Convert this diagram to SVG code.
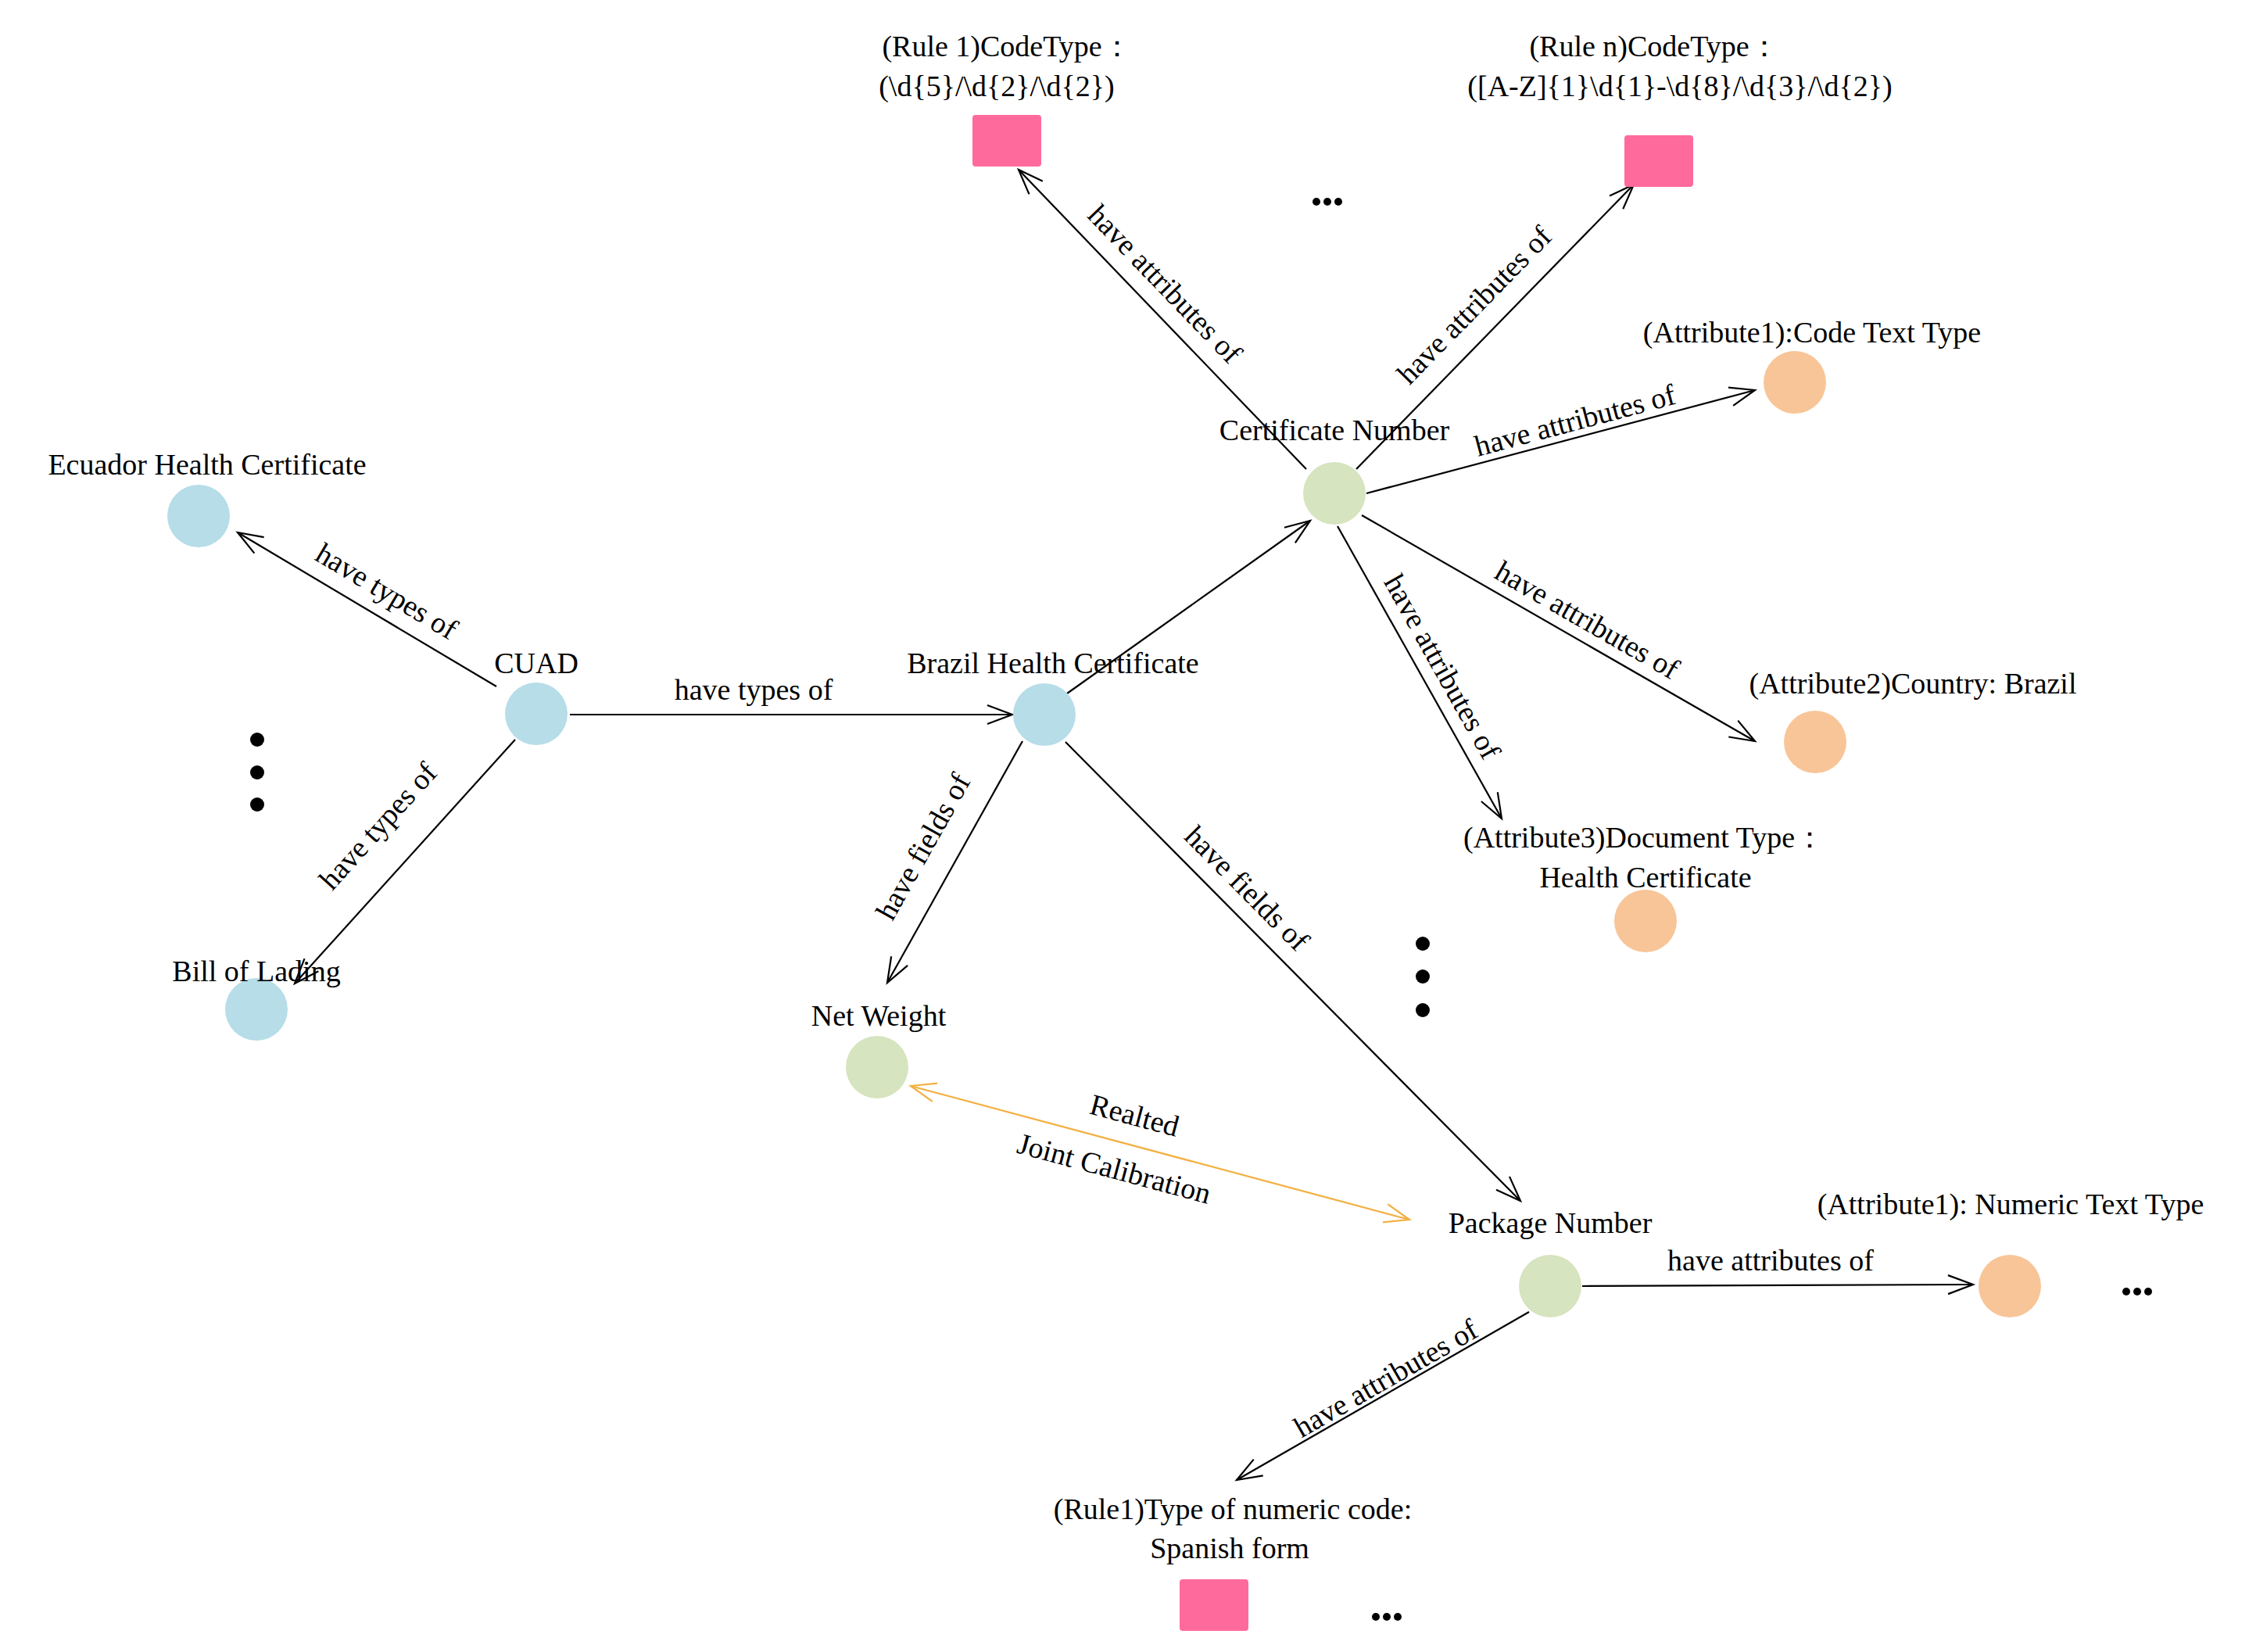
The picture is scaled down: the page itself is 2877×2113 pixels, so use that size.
<svg xmlns="http://www.w3.org/2000/svg" width="2877" height="2113" viewBox="0 0 2877 2113">
<style>
text{font-family:"Liberation Serif","Times New Roman",serif;font-size:38px;fill:#000;text-anchor:middle}
.e{stroke:#000;stroke-width:2.2;fill:none;marker-end:url(#a)}
.o{stroke:#f2b040;stroke-width:2.2;fill:none;marker-end:url(#ao);marker-start:url(#aos)}
.b{fill:#b6dde8}.g{fill:#d6e4bf}.p{fill:#f8c598}.r{fill:#ff6a9c}
</style>
<defs>
<marker id="a" markerUnits="userSpaceOnUse" markerWidth="40" markerHeight="40" refX="36" refY="20" orient="auto"><path d="M4,8 L36,20 L4,32" fill="none" stroke="#000" stroke-width="2.2"/></marker>
<marker id="ao" markerUnits="userSpaceOnUse" markerWidth="40" markerHeight="40" refX="36" refY="20" orient="auto"><path d="M4,8 L36,20 L4,32" fill="none" stroke="#f2b040" stroke-width="2.2"/></marker>
<marker id="aos" markerUnits="userSpaceOnUse" markerWidth="40" markerHeight="40" refX="4" refY="20" orient="auto"><path d="M36,8 L4,20 L36,32" fill="none" stroke="#f2b040" stroke-width="2.2"/></marker>
</defs>
<g id="connectors">
<line class="e" x1="635" y1="878" x2="304" y2="681"/>
<line class="e" x1="659" y1="946" x2="377" y2="1258"/>
<line class="e" x1="729" y1="914" x2="1295" y2="914"/>
<line class="e" x1="1365" y1="887" x2="1676" y2="666"/>
<line class="e" x1="1308" y1="948" x2="1135" y2="1257"/>
<line class="e" x1="1363" y1="949" x2="1945" y2="1536"/>
<line class="o" x1="1165" y1="1389" x2="1803" y2="1560"/>
<line class="e" x1="1671" y1="600" x2="1303" y2="217"/>
<line class="e" x1="1735" y1="600" x2="2090" y2="236"/>
<line class="e" x1="1748" y1="631" x2="2245" y2="499"/>
<line class="e" x1="1742" y1="659" x2="2245" y2="948"/>
<line class="e" x1="1711" y1="673" x2="1921" y2="1047"/>
<line class="e" x1="2024" y1="1645" x2="2524" y2="1643"/>
<line class="e" x1="1956" y1="1678" x2="1582" y2="1893"/>
<text transform="translate(488,767) rotate(30.8)">have types of</text>
<text transform="translate(493,1065) rotate(-47.9)">have types of</text>
<text x="964" y="895">have types of</text>
<text transform="translate(1192,1089) rotate(-60.8)">have fields of</text>
<text transform="translate(1586,1145) rotate(45.2)">have fields of</text>
<text transform="translate(1481,372) rotate(46.1)">have attributes of</text>
<text transform="translate(1895,399) rotate(-45.7)">have attributes of</text>
<text transform="translate(2018,550) rotate(-14.9)">have attributes of</text>
<text transform="translate(2024,804) rotate(29.9)">have attributes of</text>
<text transform="translate(1834,859) rotate(60.7)">have attributes of</text>
<text transform="translate(1448,1439) rotate(15)">Realted</text>
<text transform="translate(1422,1507) rotate(15)">Joint Calibration</text>
<text x="2265" y="1625">have attributes of</text>
<text transform="translate(1779,1774) rotate(-29.9)">have attributes of</text>
</g>
<g id="cuad"><circle class="b" cx="686" cy="913" r="40"/><text x="686" y="861">CUAD</text></g>
<g id="ecuador"><circle class="b" cx="254" cy="660" r="40"/><text x="265" y="607">Ecuador Health Certificate</text></g>
<g id="bill"><circle class="b" cx="328" cy="1291" r="40"/><text x="328" y="1255">Bill of Lading</text></g>
<g id="brazil"><circle class="b" cx="1336" cy="914" r="40"/><text x="1347" y="861">Brazil Health Certificate</text></g>
<g id="netweight"><circle class="g" cx="1122" cy="1365" r="40"/><text x="1124" y="1312">Net Weight</text></g>
<g id="certnum"><circle class="g" cx="1707" cy="631" r="40"/><text x="1707" y="563">Certificate Number</text></g>
<g id="package"><circle class="g" cx="1983" cy="1645" r="40"/><text x="1983" y="1577">Package Number</text></g>
<g id="attr1"><circle class="p" cx="2296" cy="489" r="40"/><text x="2318" y="438">(Attribute1):Code Text Type</text></g>
<g id="attr2"><circle class="p" cx="2322" cy="949" r="40"/><text x="2447" y="887">(Attribute2)Country: Brazil</text></g>
<g id="attr3"><circle class="p" cx="2105" cy="1178" r="40"/><text x="2103" y="1084">(Attribute3)Document Type：</text><text x="2105" y="1135">Health Certificate</text></g>
<g id="attrnum"><circle class="p" cx="2571" cy="1645" r="40"/><text x="2572" y="1553">(Attribute1): Numeric Text Type</text></g>
<g id="rule1"><rect class="r" x="1244" y="147" width="88" height="66" rx="4"/><text x="1288" y="72">(Rule 1)CodeType：</text><text x="1275" y="123">(\d{5}/\d{2}/\d{2})</text></g>
<g id="rulen"><rect class="r" x="2078" y="173" width="88" height="66" rx="4"/><text x="2116" y="72">(Rule n)CodeType：</text><text x="2149" y="123">([A-Z]{1}\d{1}-\d{8}/\d{3}/\d{2})</text></g>
<g id="rulespanish"><rect class="r" x="1509" y="2020" width="88" height="66" rx="4"/><text x="1577" y="1943">(Rule1)Type of numeric code:</text><text x="1573" y="1993">Spanish form</text></g>
<g id="dots" fill="#000">
<circle cx="329" cy="946" r="9"/><circle cx="329" cy="988" r="9"/><circle cx="329" cy="1029" r="9"/>
<circle cx="1820" cy="1207" r="9"/><circle cx="1820" cy="1249" r="9"/><circle cx="1820" cy="1292" r="9"/>
<circle cx="1684" cy="258" r="5"/><circle cx="1698" cy="258" r="5"/><circle cx="1712" cy="258" r="5"/>
<circle cx="2720" cy="1652" r="5"/><circle cx="2734" cy="1652" r="5"/><circle cx="2748" cy="1652" r="5"/>
<circle cx="1760" cy="2068" r="5"/><circle cx="1774" cy="2068" r="5"/><circle cx="1788" cy="2068" r="5"/>
</g>
</svg>
